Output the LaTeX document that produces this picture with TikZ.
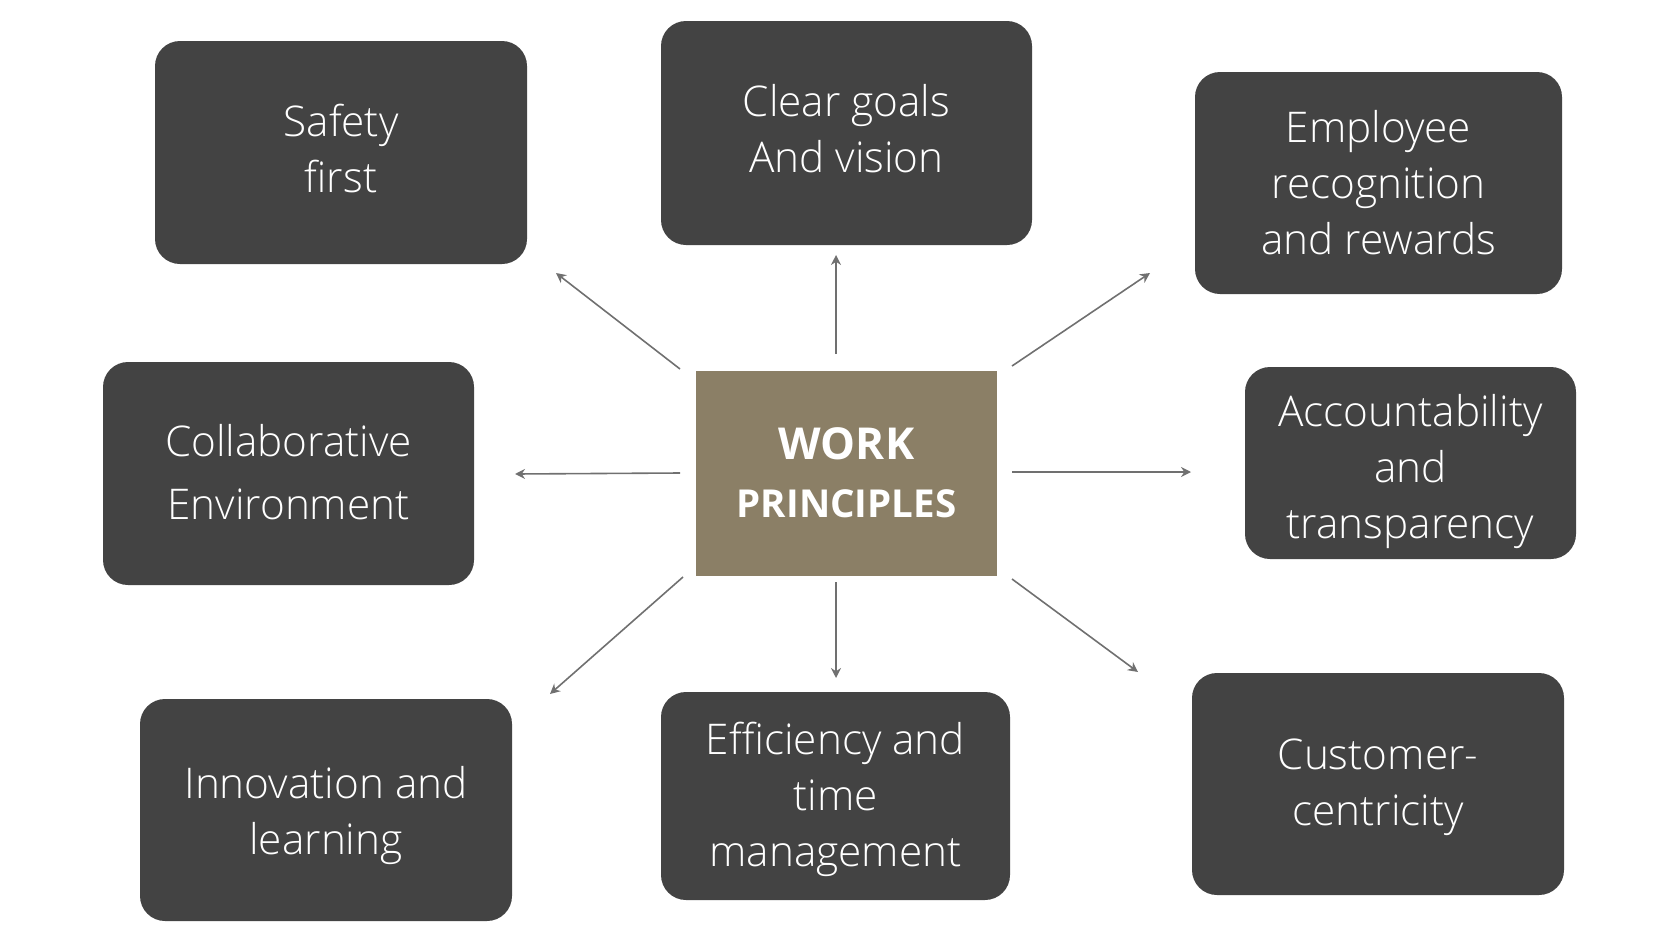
\documentclass[tikz,border=0pt]{standalone}
\usepackage{fontspec}
\setmainfont{Open Sans}[UprightFont=* Light, BoldFont=* Bold]
\usetikzlibrary{arrows.meta}
\definecolor{boxc}{HTML}{434343}
\definecolor{centc}{HTML}{8B7F66}
\definecolor{arrc}{HTML}{707070}
\begin{document}
\begin{tikzpicture}[x=1pt,y=-1pt,
  pbox/.style={fill=boxc, rounded corners=25pt, inner sep=0pt},
  ptext/.style={text=white, align=center, inner sep=0pt, font=\fontsize{42.3}{56}\selectfont},
  cbox/.style={fill=centc, inner sep=0pt},
  arr/.style={draw=arrc, line width=1.6pt, -{Stealth[length=10pt,width=10pt]}}]
\useasboundingbox (0,0) rectangle (1680,945);
% boxes
\node[pbox, minimum width=372pt, minimum height=223pt] (safety) at (341,152.5) {};
\node[pbox, minimum width=371pt, minimum height=224pt] (clear) at (846.5,133) {};
\node[pbox, minimum width=367pt, minimum height=222pt] (employee) at (1378.5,183) {};
\node[pbox, minimum width=371pt, minimum height=223pt] (collab) at (288.5,473.5) {};
\node[cbox, minimum width=301pt, minimum height=205pt] (center) at (846.5,473.5) {};
\node[pbox, minimum width=331pt, minimum height=192pt] (account) at (1410.5,463) {};
\node[pbox, minimum width=372pt, minimum height=222pt] (innov) at (326,810) {};
\node[pbox, minimum width=349pt, minimum height=208pt] (effic) at (835.5,796) {};
\node[pbox, minimum width=372pt, minimum height=222pt] (cust) at (1378,784) {};
% texts
\node[ptext] (safetyT) at ([yshift=4pt]safety.center) {Safety\\first};
\node[ptext] (clearT) at ([yshift=4pt]clear.center) {Clear goals\\And vision};
\node[ptext] (employeeT) at (employee.center) {Employee\\recognition\\and rewards};
\node[ptext, font=\fontsize{42.3}{63}\selectfont] (collabT) at ([yshift=1.5pt]collab.center) {Collaborative\\Environment};
\node[text=white, align=center, inner sep=0pt] (centerT) at ([yshift=1pt]center.center)
  {\fontsize{44}{50}\selectfont\bfseries WORK\\[29pt]\fontsize{38.5}{44}\selectfont\bfseries PRINCIPLES};
\node[ptext] (accountT) at ([yshift=-9pt]account.center) {Accountability\\and\\transparency};
\node[ptext] (innovT) at ([yshift=-5pt]innov.center) {Innovation and\\learning};
\node[ptext] (efficT) at ([yshift=-3pt]effic.center) {Efficiency and\\time\\management};
\node[ptext] (custT) at ([yshift=-3pt]cust.center) {Customer-\\centricity};
% arrow end points
\coordinate (s1) at (680,369);  \coordinate (s2) at (556,273);
\coordinate (c1) at (836,354);  \coordinate (c2) at (836,255);
\coordinate (e1) at (1012,366); \coordinate (e2) at (1150,273);
\coordinate (l1) at (680,473);  \coordinate (l2) at (515,474);
\coordinate (a1) at (1012,472); \coordinate (a2) at (1191,472);
\coordinate (i1) at (683,577);  \coordinate (i2) at (550,694);
\coordinate (f1) at (836,582);  \coordinate (f2) at (836,678);
\coordinate (u1) at (1012,579); \coordinate (u2) at (1138,672);
\draw[arr] (s1) -- (s2);
\draw[arr] (c1) -- (c2);
\draw[arr] (e1) -- (e2);
\draw[arr] (l1) -- (l2);
\draw[arr] (a1) -- (a2);
\draw[arr] (i1) -- (i2);
\draw[arr] (f1) -- (f2);
\draw[arr] (u1) -- (u2);
\end{tikzpicture}
\end{document}
